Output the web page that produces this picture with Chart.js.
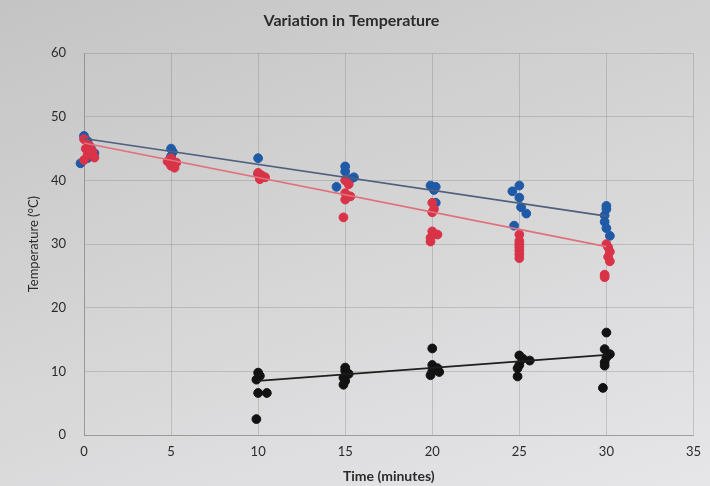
<!DOCTYPE html>
<html>
<head>
<meta charset="utf-8">
<script src="https://cdn.jsdelivr.net/npm/chart.js@4"></script>
<style>
  html, body { margin: 0; padding: 0; }
  body { width: 710px; height: 486px; background: linear-gradient(160deg, #c4c4c4 0%, #d2d2d2 40%, #dedee0 75%, #e6e6e8 100%); overflow: hidden; }
  #wrap { width: 710px; height: 486px; }
</style>
</head>
<body>
<div id="wrap"><canvas id="c" width="710" height="486"></canvas></div>
<script>
// ---- Data ----
const xTicks = [0, 5, 10, 15, 20, 25, 30, 35];
const yTicks = [0, 10, 20, 30, 40, 50, 60];

const blueTimes = [0, 0.2, 0.4, 0.6, 0.2, -0.2, 5, 5.1, 5, 10, 10, 10.2, 15, 15, 15.5, 15.3, 14.5, 19.9, 20.2, 20.1, 20.2, 25, 24.6, 25, 25.1, 25.4, 24.7, 30, 30, 29.9, 29.9, 30, 30.2];
const blueTemps = [47, 46.2, 45, 44.3, 43.5, 42.7, 45, 44.5, 43.8, 43.5, 41, 40.6, 42.2, 41.4, 40.5, 40.2, 39, 39.2, 39, 38.5, 36.5, 39.2, 38.3, 37.3, 35.8, 34.8, 32.9, 36, 35.5, 34.5, 33.5, 32.5, 31.3];

const redTimes = [0, 0.3, 0.1, 0.5, 0.2, 0.6, 0, 5, 4.8, 5.3, 5, 5.2, 10, 10.2, 10.4, 10.1, 15, 15.2, 15, 15.3, 15, 14.9, 20, 20.1, 20, 20, 20.3, 19.9, 19.9, 25, 25, 25, 25, 25, 25, 25, 30, 30.1, 30.2, 30.1, 30.2, 29.9, 29.9];
const redTemps = [46.5, 45.5, 45, 44.5, 44, 43.6, 43.2, 43.5, 43, 42.8, 42.3, 42, 41.2, 40.8, 40.5, 40.2, 40, 39.4, 38, 37.5, 37, 34.2, 36.5, 35.5, 35, 32, 31.5, 31, 30.4, 31.5, 30.5, 30, 29.5, 29, 28.4, 27.8, 30, 29.5, 28.8, 28, 27.3, 25.2, 24.8];

const blackTimes = [10, 10.1, 9.9, 10, 10.5, 9.9, 15, 15, 15.2, 14.9, 15, 14.9, 20, 20, 20.3, 20, 20.4, 19.9, 25, 25.2, 25.6, 25, 24.9, 24.9, 30, 29.9, 30.2, 30, 29.9, 29.9, 29.8];
const blackTemps = [9.8, 9.3, 8.7, 6.6, 6.6, 2.5, 10.6, 10.1, 9.6, 9, 8.5, 7.9, 13.6, 11, 10.5, 10, 9.9, 9.4, 12.5, 12, 11.7, 11, 10.5, 9.2, 16.1, 13.5, 12.7, 12.2, 11.4, 10.9, 7.4];

// trendline end points
const blueTrendTimes = [0, 30];
const blueTrendTemps = [46.6, 34.4];
const redTrendTimes = [0, 30];
const redTrendTemps = [45.9, 29.6];
const blackTrendTimes = [10, 30];
const blackTrendTemps = [8.5, 12.6];

function pts(xs, ys) { return xs.map((x, i) => ({ x: x, y: ys[i] })); }

const FONT = "Lato, 'Open Sans', 'DejaVu Sans', sans-serif";
const TXT = '#2b2b2b';

new Chart(document.getElementById('c'), {
  type: 'scatter',
  data: {
    datasets: [
      { label: 'Blue trend', type: 'line', data: pts(blueTrendTimes, blueTrendTemps), borderColor: '#4f5f7e', borderWidth: 1.6, pointRadius: 0, fill: false, order: 0 },
      { label: 'Red trend', type: 'line', data: pts(redTrendTimes, redTrendTemps), borderColor: '#e0707c', borderWidth: 1.6, pointRadius: 0, fill: false, order: 0 },
      { label: 'Black trend', type: 'line', data: pts(blackTrendTimes, blackTrendTemps), borderColor: '#1e1e1e', borderWidth: 1.8, pointRadius: 0, fill: false, order: 0 },
      { label: 'Red', data: pts(redTimes, redTemps), backgroundColor: '#d93348', borderColor: '#d93348', pointRadius: 4.4, order: 1 },
      { label: 'Black', data: pts(blackTimes, blackTemps), backgroundColor: '#121212', borderColor: '#121212', pointRadius: 4.4, order: 1 },
      { label: 'Blue', data: pts(blueTimes, blueTemps), backgroundColor: '#1f5aa6', borderColor: '#1f5aa6', pointRadius: 4.4, order: 2 }
    ]
  },
  options: {
    responsive: false,
    animation: false,
    clip: false,
    layout: { padding: { left: 0, right: 7, top: 0, bottom: 0 } },
    plugins: {
      legend: { display: false },
      tooltip: { enabled: false },
      title: {
        display: true,
        text: 'Variation in Temperature',
        color: TXT,
        font: { family: FONT, size: 16, weight: 'bold' },
        padding: { top: 11, bottom: 23 }
      }
    },
    scales: {
      x: {
        type: 'linear',
        min: 0, max: 35,
        afterBuildTicks: (s) => { s.ticks = xTicks.map(v => ({ value: v })); },
        afterFit: (s) => { s.height = 51; },
        grid: { color: 'rgba(120,120,120,0.3)', lineWidth: 1, drawTicks: false },
        border: { display: true, color: 'rgba(120,120,120,0.5)' },
        ticks: { color: TXT, font: { family: FONT, size: 13 }, padding: 9 },
        title: { display: true, text: 'Time (minutes)', color: TXT, font: { family: FONT, size: 14, weight: 'bold' }, padding: { top: 0, bottom: 1 } }
      },
      y: {
        type: 'linear',
        min: 0, max: 60,
        afterBuildTicks: (s) => { s.ticks = yTicks.map(v => ({ value: v })); },
        afterFit: (s) => { s.width = 84; },
        grid: { color: 'rgba(120,120,120,0.3)', lineWidth: 1, drawTicks: false },
        border: { display: true, color: 'rgba(120,120,120,0.5)' },
        ticks: { color: TXT, font: { family: FONT, size: 13 }, padding: 18 },
        title: { display: true, text: 'Temperature (°C)', color: TXT, font: { family: FONT, size: 13 }, padding: { top: 26, bottom: 0 } }
      }
    }
  }
});
</script>
</body>
</html>
